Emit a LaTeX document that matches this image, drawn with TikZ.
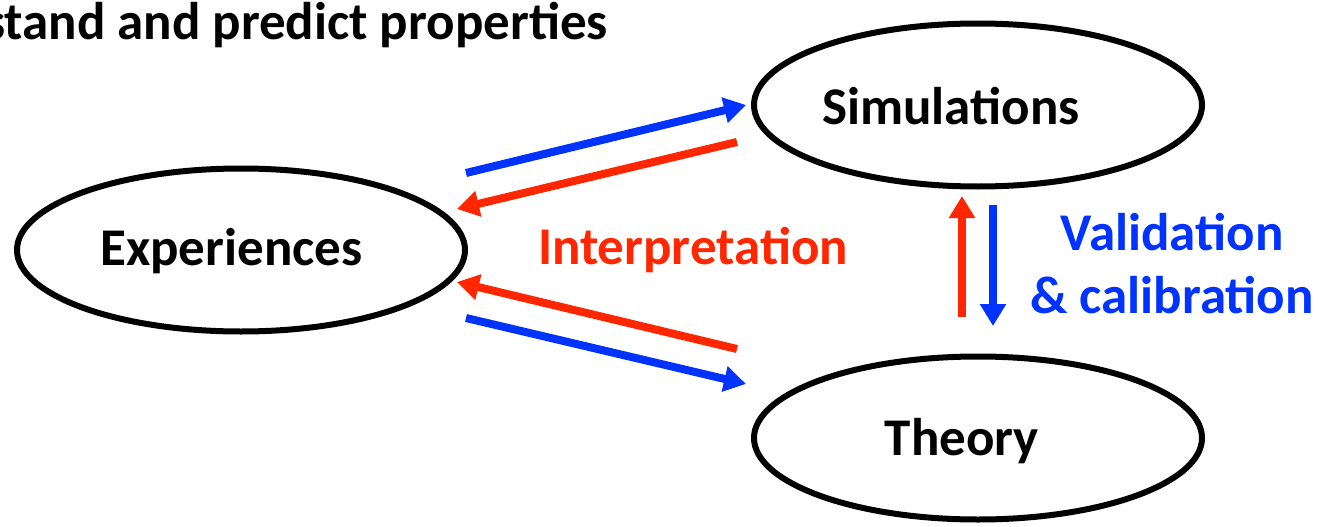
\documentclass[tikz,border=0pt]{standalone}
\usepackage{fontspec}
\setmainfont{Carlito}
\usetikzlibrary{arrows.meta,shapes.geometric}
\definecolor{myblue}{RGB}{0,51,255}
\definecolor{myred}{RGB}{255,38,0}
\tikzset{
  oval/.style={ellipse, draw=black, line width=6pt, minimum width=448pt, minimum height=163pt, inner sep=0pt},
  conn/.style={line width=8pt, -{Triangle[width=25pt,length=22pt]}},
  bl/.style={conn, draw=myblue},
  rd/.style={conn, draw=myred},
  lbl/.style={font=\bfseries\fontsize{53}{63}\selectfont, inner sep=0pt}
}
\begin{document}
\begin{tikzpicture}[x=1pt,y=-1pt]
\useasboundingbox (0,0) rectangle (1319,527);
\node[oval] (exp) at (241,250) {};
\node[oval] (sim) at (978,105) {};
\node[oval] (the) at (978,438) {};
\node[lbl] (expt) at (231.5,251) {Experiences};
\node[lbl] (simt) at (951,106) {Simulations};
\node[lbl] (thet) at (962,441) {Theory};
\node[lbl, anchor=east] (top) at (608,25) {stand and predict properties};
\node[lbl, text=myred] (interp) at (693,250) {Interpretation};
\node[lbl, text=myblue, align=center] (valid) at (1172,264) {Validation\\\& calibration};
% coordinates for arrow ends
\coordinate (a1s) at (466,173); \coordinate (a1e) at (746,105);
\coordinate (a2s) at (737,142); \coordinate (a2e) at (457,209);
\coordinate (a3s) at (737,349); \coordinate (a3e) at (457,282);
\coordinate (a4s) at (466,318); \coordinate (a4e) at (746,384);
\coordinate (a5s) at (962,317); \coordinate (a5e) at (962,196);
\coordinate (a6s) at (993,205); \coordinate (a6e) at (993,326);
\draw[bl] (a1s) -- (a1e);
\draw[rd] (a2s) -- (a2e);
\draw[rd] (a3s) -- (a3e);
\draw[bl] (a4s) -- (a4e);
\draw[rd] (a5s) -- (a5e);
\draw[bl] (a6s) -- (a6e);
\end{tikzpicture}
\end{document}
